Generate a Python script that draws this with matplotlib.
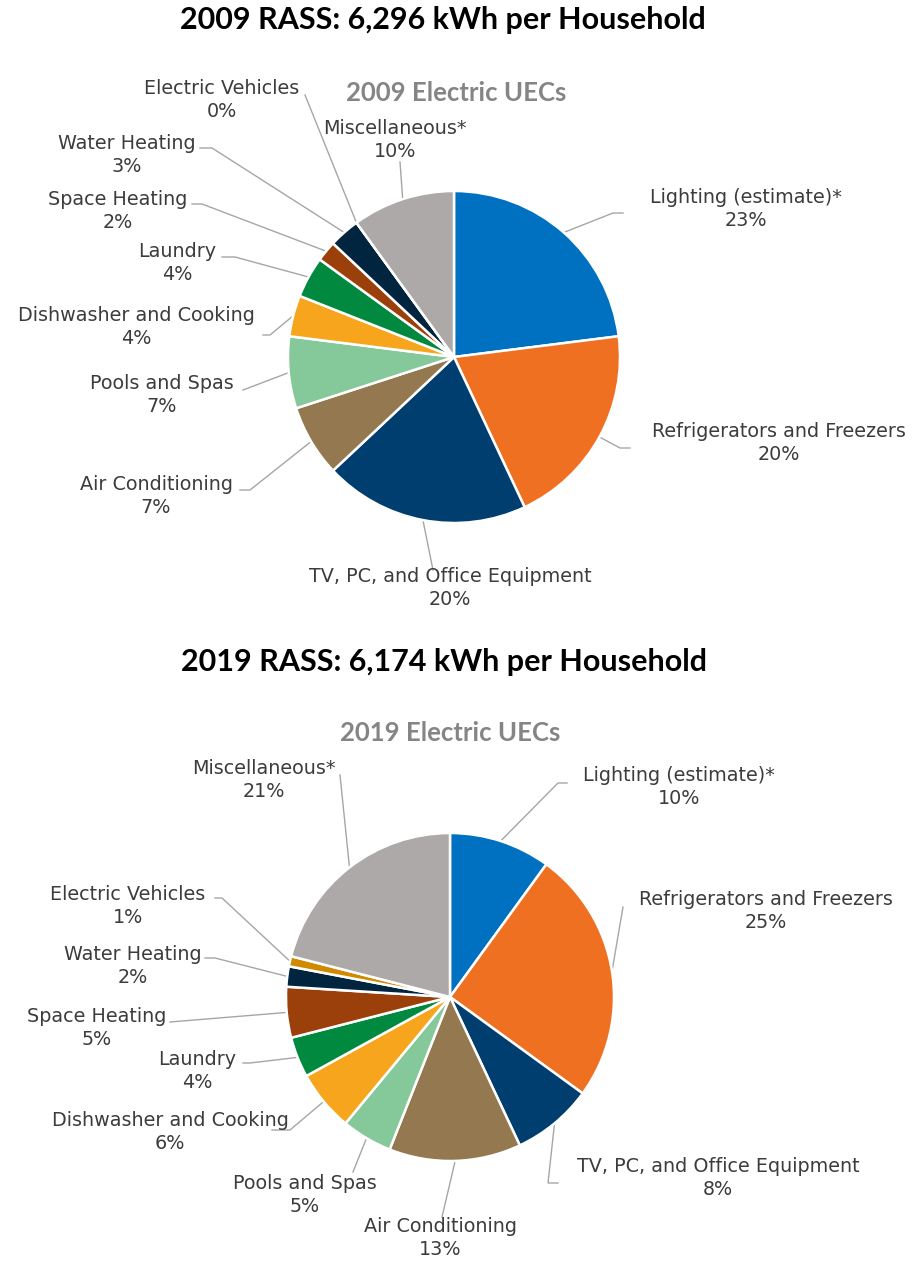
import numpy as np
import matplotlib.pyplot as plt

# 用途別の電力消費構成（%）
categories = ["Lighting (estimate)*", "Refrigerators and Freezers",
              "TV, PC, and Office Equipment", "Air Conditioning", "Pools and Spas",
              "Dishwasher and Cooking", "Laundry", "Space Heating", "Water Heating",
              "Electric Vehicles", "Miscellaneous*"]
share_2009 = [23, 20, 20, 7, 7, 4, 4, 2, 3, 0, 10]
share_2019 = [10, 25, 8, 13, 5, 6, 4, 5, 2, 1, 21]
titles = ["2009 RASS: 6,296 kWh per Household", "2019 RASS: 6,174 kWh per Household"]
subtitles = ["2009 Electric UECs", "2019 Electric UECs"]

colors = ["#0070C0", "#F07022", "#003E70", "#937850", "#85C99B", "#F8A51E",
          "#00893F", "#9B400B", "#01243F", "#D08A00", "#ADA9A8"]

W, H = 916, 1261
LABEL_COLOR = "#3C3C3C"
LINE_COLOR = "#A6A6A6"

# ラベル配置（ピクセル座標）: ラベル中心と引き出し線の折れ点
layout_2009 = [
    ((746, 209), [(623, 213), (613, 213)]),
    ((779, 443), [(630, 448), (620, 448)]),
    ((450, 588), [(433, 570)]),
    ((156, 496), [(240, 490), (250, 490)]),
    ((162, 395), [(243, 390)]),
    ((136, 327), [(263, 335), (270, 335)]),
    ((177, 263), [(222, 257), (235, 257)]),
    ((118, 211), [(192, 204), (202, 204)]),
    ((127, 155), [(200, 148), (212, 148)]),
    ((222, 100), [(305, 95)]),
    ((395, 140), [(400, 162)]),
]
layout_2019 = [
    ((679, 787), [(567, 783), (558, 783)]),
    ((766, 911), [(623, 907)]),
    ((718, 1178), [(558, 1183), (548, 1183)]),
    ((440, 1238), [(442, 1217)]),
    ((305, 1195), [(353, 1172)]),
    ((170, 1132), [(272, 1130), (290, 1130)]),
    ((197, 1071), [(243, 1063), (250, 1063)]),
    ((97, 1028), [(170, 1022)]),
    ((133, 966), [(205, 958), (215, 958)]),
    ((128, 906), [(215, 898), (222, 898)]),
    ((264, 780), [(340, 775)]),
]

fig = plt.figure(figsize=(W / 100, H / 100), dpi=100)
ax = fig.add_axes([0, 0, 1, 1])

panels = [
    (share_2009, (454, 357), 166, layout_2009, (443, 20), (456, 93)),
    (share_2019, (450, 997), 164, layout_2019, (444, 662), (450, 733)),
]

for i, (vals, center, r, layout, tpos, spos) in enumerate(panels):
    # y軸を反転するので startangle=-90, counterclock=True で画面上は時計回り
    wedges, _ = ax.pie(vals, colors=colors, center=center, radius=r,
                       startangle=-90, counterclock=True,
                       wedgeprops=dict(edgecolor="white", linewidth=1.8))
    for w, name, v, (lpos, pts) in zip(wedges, categories, vals, layout):
        mid = np.deg2rad((w.theta1 + w.theta2) / 2)
        edge = (center[0] + r * np.cos(mid), center[1] + r * np.sin(mid))
        path = list(pts) + [edge]
        xs, ys = zip(*path)
        ax.plot(xs, ys, color=LINE_COLOR, lw=1, zorder=0)
        ax.text(lpos[0], lpos[1], f"{name}\n{v}%", ha="center", va="center",
                fontsize=13.8, color=LABEL_COLOR, linespacing=1.3,
                family="DejaVu Sans")
    ax.text(tpos[0], tpos[1], titles[i], ha="center", va="center",
            fontsize=22, fontweight="bold", family="Lato", color="black")
    ax.text(spos[0], spos[1], subtitles[i], ha="center", va="center",
            fontsize=18.5, fontweight="bold", family="Lato", color="#858585")

ax.set_xlim(0, W)
ax.set_ylim(H, 0)
ax.set_aspect("equal")
ax.axis("off")

fig.savefig("out.png", dpi=100, facecolor="white")
